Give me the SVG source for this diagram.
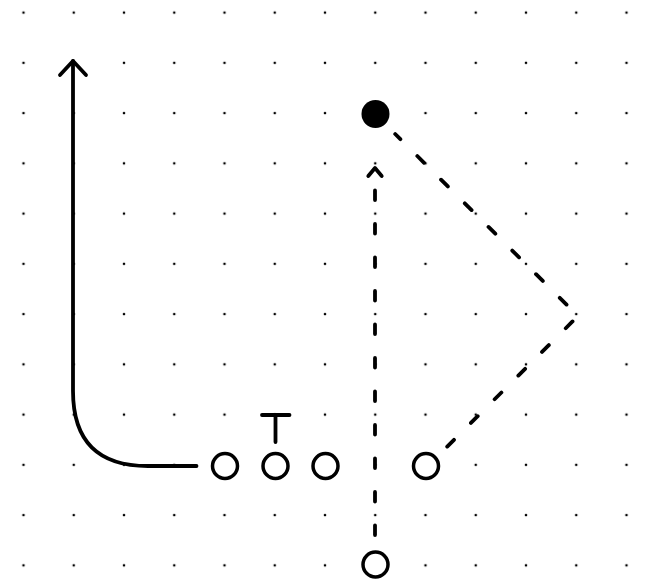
<svg xmlns="http://www.w3.org/2000/svg" width="670" height="587" viewBox="0 0 670 587">
  <defs>
    <style>
      .dot { fill: #000; }
      .player { fill: #fff; stroke: #000; stroke-width: 3.5; }
      .route { fill: none; stroke: #000; stroke-width: 3.8; stroke-linecap: round; stroke-linejoin: round; }
      .dashed { stroke-dasharray: 9.6 23.9; }
    </style>
    <pattern id="grid" x="23.5" y="12.6" width="50.25" height="50.25" patternUnits="userSpaceOnUse">
      <circle class="dot" cx="0" cy="0" r="1.3"/>
      <circle class="dot" cx="50.25" cy="0" r="1.3"/>
      <circle class="dot" cx="0" cy="50.25" r="1.3"/>
      <circle class="dot" cx="50.25" cy="50.25" r="1.3"/>
    </pattern>
    <marker id="bigArrow" markerUnits="userSpaceOnUse" markerWidth="40" markerHeight="40" refX="20" refY="20" orient="auto" viewBox="0 0 40 40">
      <path d="M6,7 L20,20 L6,33" fill="none" stroke="#000" stroke-width="3.8" stroke-linecap="round" stroke-linejoin="round"/>
    </marker>
    <marker id="smallArrow" markerUnits="userSpaceOnUse" markerWidth="30" markerHeight="30" refX="15" refY="15" orient="auto" viewBox="0 0 30 30">
      <path d="M7,8.3 L15,15 L7,21.7" fill="none" stroke="#000" stroke-width="3.8" stroke-linecap="round" stroke-linejoin="round"/>
    </marker>
  </defs>

  <rect width="670" height="587" fill="#fff"/>
  <rect id="dot-grid" width="670" height="587" fill="url(#grid)"/>

  <g id="connectors">
    <path id="route-left" class="route" d="M196.5,466 L148,466 Q73,466 73,391 L73,61" marker-end="url(#bigArrow)"/>
    <path id="route-middle" class="route dashed" d="M375,535 L375,168" marker-end="url(#smallArrow)"/>
    <path id="route-right" class="route dashed" d="M447.2,446.6 L578,316 L395.2,134"/>
    <path id="block-t" class="route" d="M262,415 L289.5,415 M275.5,415 L275.5,442"/>
  </g>

  <g id="node-ball"><circle cx="375.5" cy="114" r="14" fill="#000"/></g>
  <g id="node-p1"><circle class="player" cx="225" cy="466" r="12.5"/></g>
  <g id="node-p2"><circle class="player" cx="275.5" cy="466" r="12.5"/></g>
  <g id="node-p3"><circle class="player" cx="325.5" cy="466" r="12.5"/></g>
  <g id="node-p4"><circle class="player" cx="426" cy="466" r="12.5"/></g>
  <g id="node-p5"><circle class="player" cx="375.5" cy="564.5" r="12.5"/></g>
</svg>
